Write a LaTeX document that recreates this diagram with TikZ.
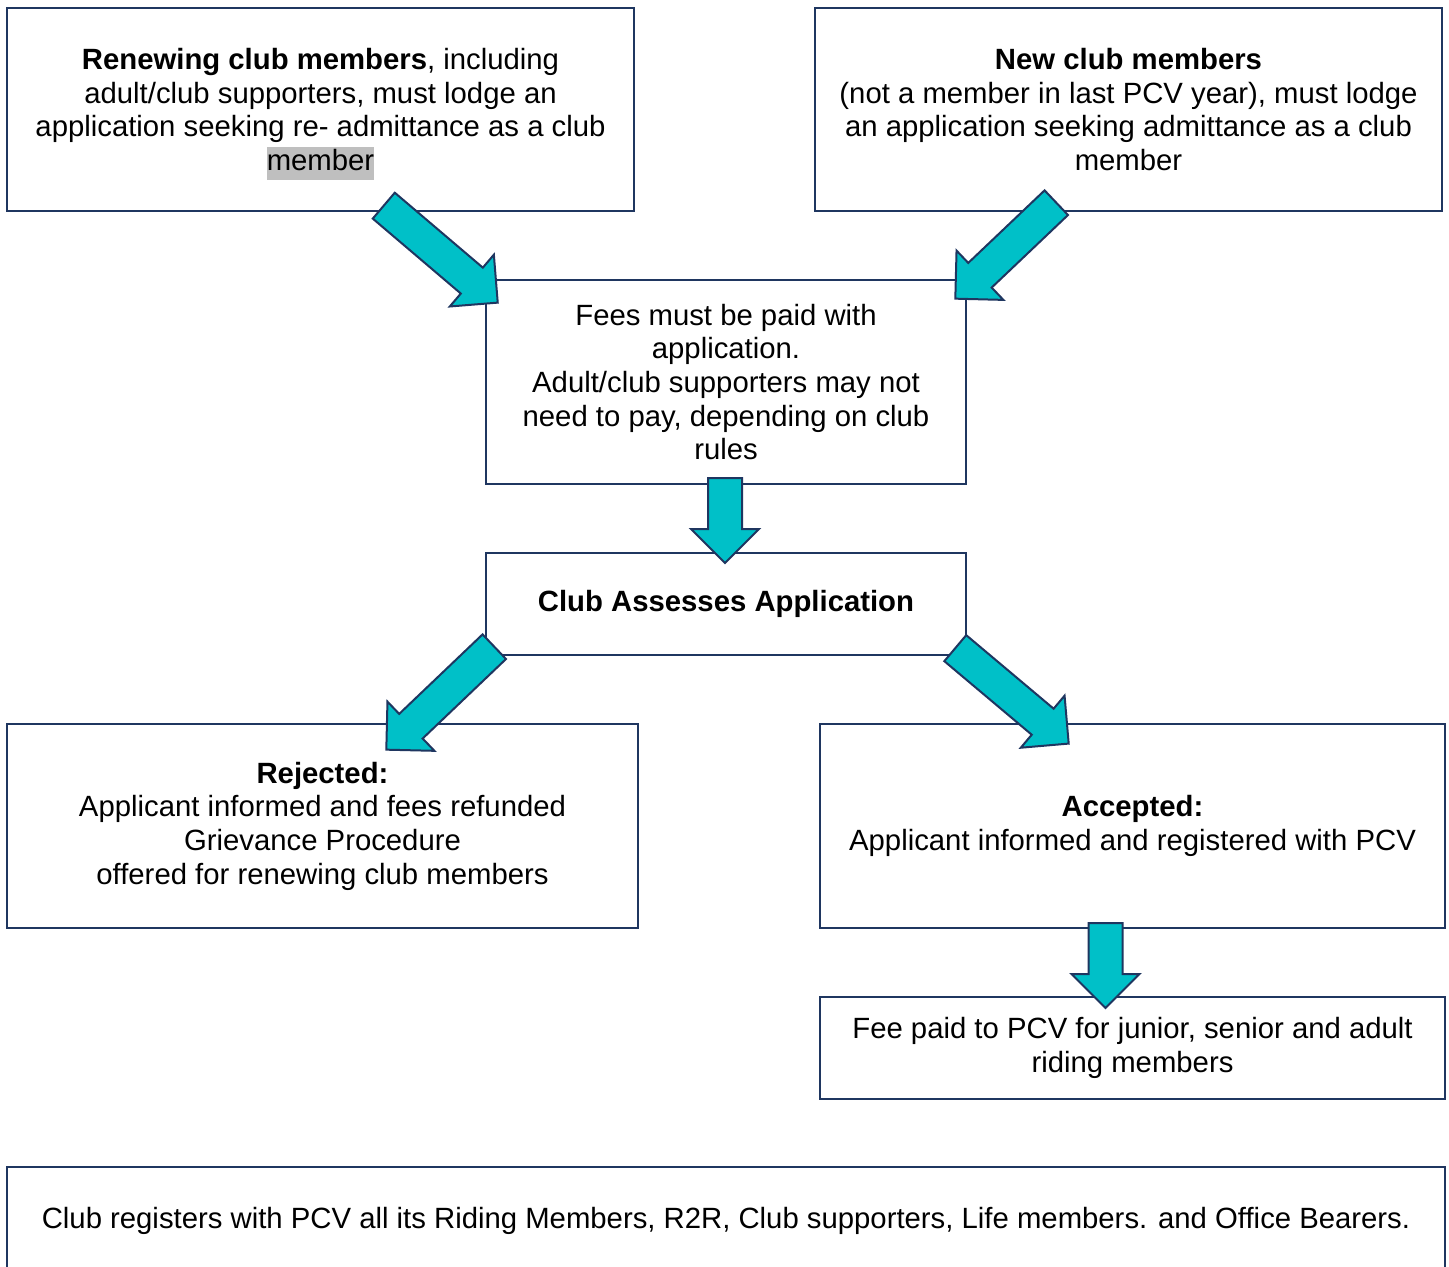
\documentclass[tikz,border=0pt]{standalone}
\usepackage{fontspec}
\setmainfont{Liberation Sans}
\usepackage{xcolor}
\usetikzlibrary{shapes.arrows,calc}

\definecolor{boxnavy}{RGB}{31,54,96}
\definecolor{arrowteal}{RGB}{0,192,200}
\definecolor{hlgray}{RGB}{191,191,191}

\newcommand{\flowfont}{\fontsize{14.65}{16.8}\selectfont}

\tikzset{
  stagebox/.style={draw=boxnavy, line width=1pt, fill=white, align=center, inner sep=0pt, font=\flowfont},
  fatarrow/.style={to path={
    let \p1=(\tikztostart), \p2=(\tikztotarget),
        \n1={atan2(\y2-\y1,\x2-\x1)}, \n2={veclen(\x2-\x1,\y2-\y1)}
    in node[single arrow, draw=boxnavy, fill=arrowteal, line width=1pt,
            inner xsep=0pt, inner ysep=8pt, minimum width=33pt,
            single arrow head extend=8.5pt, minimum height=\n2,
            rotate=-\n1, anchor=tail] at (\tikztostart) {}}},
}

\begin{document}
\begin{tikzpicture}[x=0.5pt,y=0.5pt,yscale=-1,xscale=1]
\useasboundingbox (0,0) rectangle (1449,1266);

%Shape: Rectangle [renewing members]
\node[stagebox, minimum width=313.5pt, minimum height=101.5pt] (renew) at (320.5,109.5)
  {\textbf{Renewing club members}, including\\ adult/club supporters, must lodge an\\
   application seeking re- admittance as a club\\
   \vphantom{member}\smash{\setlength{\fboxsep}{0pt}\colorbox{hlgray}{\strut member}}};
%Shape: Rectangle [new members]
\node[stagebox, minimum width=313.5pt, minimum height=101.5pt] (newmem) at (1128.5,109.5)
  {\textbf{New club members}\\ (not a member in last PCV year), must lodge\\
   an application seeking admittance as a club\\ member};
%Shape: Rectangle [fees]
\node[stagebox, minimum width=240pt, minimum height=102pt] (fees) at (726,382)
  {Fees must be paid with\\ application.\\ Adult/club supporters may not\\
   need to pay, depending on club\\ rules};
%Shape: Rectangle [assess]
\node[stagebox, minimum width=240pt, minimum height=51pt] (assess) at (726,604)
  {\textbf{Club Assesses Application}};
%Shape: Rectangle [rejected]
\node[stagebox, minimum width=315.5pt, minimum height=102pt] (reject) at (322.5,826)
  {\textbf{Rejected:}\\ Applicant informed and fees refunded\\ Grievance Procedure\\
   offered for renewing club members};
%Shape: Rectangle [accepted]
\node[stagebox, minimum width=312.5pt, minimum height=102pt] (accept) at (1132.5,826)
  {\textbf{Accepted:}\\ Applicant informed and registered with PCV};
%Shape: Rectangle [fee to PCV]
\node[stagebox, minimum width=312.5pt, minimum height=51pt] (feepaid) at (1132.5,1048)
  {Fee paid to PCV for junior, senior and adult\\ riding members};
%Shape: Rectangle [registration]
\node[stagebox, minimum width=719pt, minimum height=54pt] (register) at (726,1221)
  {Club registers with PCV all its Riding Members, R2R, Club supporters, Life members. and Office Bearers.};

% arrow ends
\coordinate (renew-out) at (383,205);
\coordinate (fees-in-l) at (497,302);
\coordinate (newmem-out) at (1057,202);
\coordinate (fees-in-r) at (956,298);
\coordinate (fees-out) at (725,477);
\coordinate (assess-in) at (725,562);
\coordinate (assess-out-l) at (495,646);
\coordinate (reject-in) at (387,749);
\coordinate (assess-out-r) at (954.5,647.5);
\coordinate (accept-in) at (1068,743);
\coordinate (accept-out) at (1105.5,922);
\coordinate (feepaid-in) at (1105.5,1007);

%Block Arrows
\path (renew-out) to[fatarrow] (fees-in-l);
\path (newmem-out) to[fatarrow] (fees-in-r);
\path (fees-out) to[fatarrow] (assess-in);
\path (assess-out-l) to[fatarrow] (reject-in);
\path (assess-out-r) to[fatarrow] (accept-in);
\path (accept-out) to[fatarrow] (feepaid-in);

\end{tikzpicture}
\end{document}
